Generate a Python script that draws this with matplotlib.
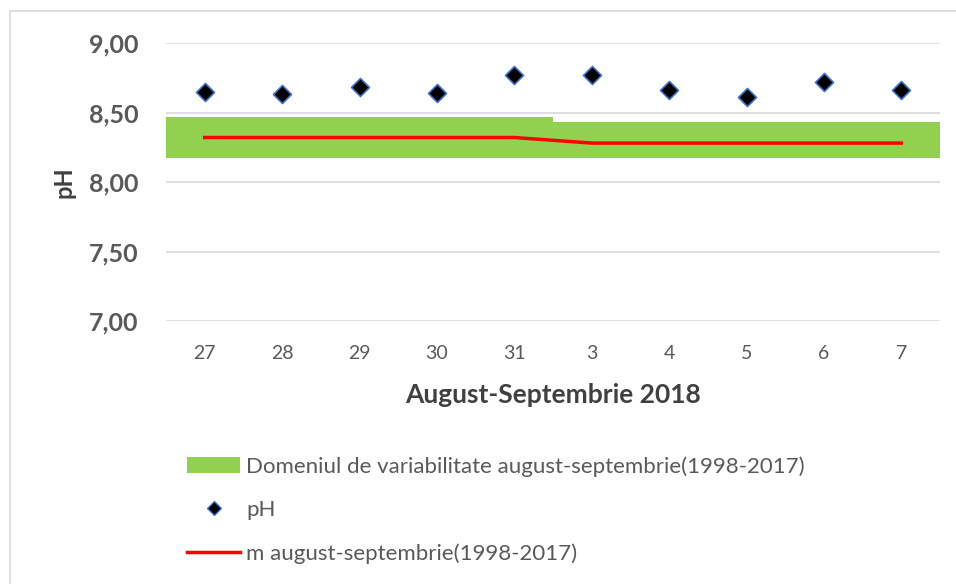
import matplotlib
matplotlib.use("Agg")
import matplotlib.pyplot as plt
from matplotlib.lines import Line2D
from matplotlib.patches import Patch
import numpy as np

days = ["27", "28", "29", "30", "31", "3", "4", "5", "6", "7"]
ph_values = [8.65, 8.63, 8.68, 8.64, 8.77, 8.77, 8.66, 8.61, 8.72, 8.66]
range_min = [8.17, 8.17, 8.17, 8.17, 8.17, 8.17, 8.17, 8.17, 8.17, 8.17]
range_max = [8.47, 8.47, 8.47, 8.47, 8.47, 8.43, 8.43, 8.43, 8.43, 8.43]
mean_values = [8.32, 8.32, 8.32, 8.32, 8.32, 8.28, 8.28, 8.28, 8.28, 8.28]
y_ticks = [7.0, 7.5, 8.0, 8.5, 9.0]

plt.rcParams['font.family'] = ['Lato', 'DejaVu Sans']
W, H = 956, 584
fig = plt.figure(figsize=(W / 100, H / 100), dpi=100)
ax = fig.add_axes([166 / W, 1 - 321 / H, (940 - 166) / W, (321 - 43) / H])

x = np.arange(len(days))
heights = [mx - mn for mx, mn in zip(range_max, range_min)]
ax.bar(x, heights, bottom=range_min, width=1.0, color='#92D050', linewidth=0, zorder=2,
       label='Domeniul de variabilitate august-septembrie(1998-2017)')
ax.scatter(x, ph_values, marker='D', s=85, color='black', edgecolors='#4472C4',
           linewidths=1.2, zorder=4, label='pH')
ax.plot(x, mean_values, color='#FF0000', linewidth=2.5, zorder=3,
        label='m august-septembrie(1998-2017)')

ax.set_xlim(-0.5, len(days) - 0.5)
ax.set_ylim(7.0, 9.0)
ax.set_yticks(y_ticks)
ax.set_yticklabels([f"{v:.2f}".replace('.', ',') for v in y_ticks],
                   fontsize=18, fontweight='bold', color='#595959')
ax.set_xticks(x)
ax.set_xticklabels(days, fontsize=14, color='#595959')
ax.tick_params(axis='both', length=0)
ax.tick_params(axis='x', pad=17.5)
ax.tick_params(axis='y', pad=20)
ax.grid(axis='y', color='#D9D9D9', linewidth=1.2, zorder=0)
ax.set_axisbelow(True)
for s in ax.spines.values():
    s.set_visible(False)

ax.set_xlabel('August-Septembrie 2018', fontsize=19, fontweight='bold', color='#404040', labelpad=15)
fig.text(64 / W, 1 - 182 / H, 'pH', rotation=90, fontsize=17, fontweight='bold',
         color='#404040', ha='center', va='center')

# chart border
fig.add_artist(Line2D([10 / W, 10 / W], [0, 1 - 11 / H], color='#D9D9D9', linewidth=1.2))
fig.add_artist(Line2D([10 / W, 1], [1 - 11 / H, 1 - 11 / H], color='#D9D9D9', linewidth=1.2))

handles = [Patch(facecolor='#92D050', edgecolor='none'),
           Line2D([], [], marker='D', color='black', markeredgecolor='#4472C4', linestyle='none', markersize=7),
           Line2D([], [], color='#FF0000', linewidth=2.5)]
labels = ['Domeniul de variabilitate august-septembrie(1998-2017)', 'pH', 'm august-septembrie(1998-2017)']
leg = fig.legend(handles, labels, loc='upper left', bbox_to_anchor=(187 / W, 1 - 456 / H),
                 frameon=False, fontsize=16, labelcolor='#595959', handlelength=2.4,
                 handletextpad=0.25, labelspacing=1.05, borderpad=0, borderaxespad=0)

fig.savefig('out.png', dpi=100)
